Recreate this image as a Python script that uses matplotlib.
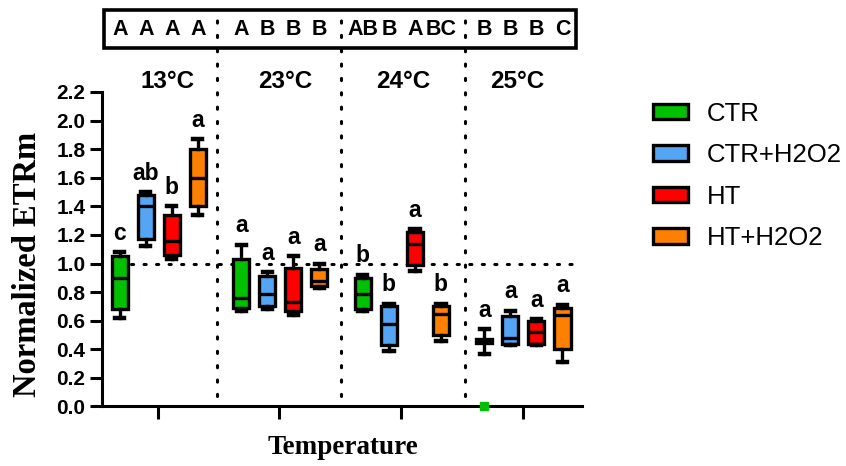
import numpy as np
import matplotlib.pyplot as plt
from matplotlib.patches import Patch, Rectangle

# data: (min, q1, median, q3, max) per temperature
temps = ["13°C", "23°C", "24°C", "25°C"]
treatments = ["CTR", "CTR+H2O2", "HT", "HT+H2O2"]
colors = ["#00C000", "#55A5F5", "#FF0000", "#FF8000"]

ctr = [(0.62, 0.68, 0.90, 1.05, 1.08), (0.67, 0.69, 0.76, 1.03, 1.13),
       (0.67, 0.68, 0.79, 0.90, 0.92), (0.37, 0.445, 0.46, 0.47, 0.54)]
ctr_h2o2 = [(1.12, 1.17, 1.40, 1.48, 1.50), (0.68, 0.70, 0.79, 0.91, 0.94),
            (0.39, 0.43, 0.58, 0.70, 0.72), (0.43, 0.44, 0.48, 0.63, 0.67)]
ht = [(1.03, 1.06, 1.16, 1.34, 1.40), (0.64, 0.67, 0.73, 0.97, 1.05),
      (0.95, 0.99, 1.14, 1.22, 1.24), (0.43, 0.44, 0.52, 0.60, 0.61)]
ht_h2o2 = [(1.34, 1.40, 1.60, 1.80, 1.87), (0.83, 0.84, 0.88, 0.96, 1.00),
           (0.46, 0.50, 0.645, 0.70, 0.72), (0.31, 0.40, 0.64, 0.69, 0.71)]

# lowercase: within temperature, uppercase: within treatment
low_letters = [["c", "ab", "b", "a"], ["a", "a", "a", "a"],
               ["b", "b", "a", "b"], ["a", "a", "a", "a"]]
top_letters = [["A", "A", "A", "A"], ["A", "B", "B", "B"],
               ["AB", "B", "A", "BC"], ["B", "B", "B", "C"]]

# single CTR point sitting on zero at 25°C
zero_point = (3, 0, 0.0)  # (temperature index, treatment index, value)

plt.rcParams['font.family'] = ['Liberation Sans', 'DejaVu Sans']

fig = plt.figure(figsize=(8.46, 4.66), dpi=100)
ax = fig.add_axes([0.1206, 0.1277, 0.5674, 0.6749])

offsets = (np.arange(4) - 1.5) * 0.214 + 0.008
width = 0.132

for k, series in enumerate([ctr, ctr_h2o2, ht, ht_h2o2]):
    stats = [dict(whislo=s[0], q1=s[1], med=s[2], q3=s[3], whishi=s[4], fliers=[])
             for s in series]
    pos = np.arange(4) + offsets[k]
    ax.bxp(stats, positions=pos, widths=width, capwidths=0.075,
           patch_artist=True, showfliers=False,
           boxprops=dict(facecolor=colors[k], edgecolor="black", linewidth=2.4),
           medianprops=dict(color="black", linewidth=2.4),
           whiskerprops=dict(color="black", linewidth=2.4),
           capprops=dict(color="black", linewidth=3.2),
           manage_ticks=False, zorder=3)
    for g, s in enumerate(series):
        ax.annotate(low_letters[g][k], (pos[g], s[4]), xytext=(0, 9),
                    textcoords="offset points", ha="center", va="baseline",
                    fontsize=16.5, fontweight="bold", annotation_clip=False)
        ax.text(pos[g], 2.635, top_letters[g][k], ha="center", va="center",
                fontsize=15.5, fontweight="bold", clip_on=False)

ti, tk, tv = zero_point
ax.plot(ti + offsets[tk], tv, "s", color=colors[tk], markersize=6,
        clip_on=False, zorder=5)

# reference line and temperature separators
ax.plot([-0.22, 3.42], [1.0, 1.0], color="black", lw=2.2, dashes=[0.7, 3.4],
        dash_capstyle="round", zorder=2)
for xs in [0.49, 1.51, 2.53]:
    ax.plot([xs, xs], [0.07, 2.78], color="black", lw=2.2, dashes=[0.7, 4.0],
            dash_capstyle="round", clip_on=False, zorder=2)

for xl, t in zip([0.08, 1.05, 2.02, 2.955], temps):
    ax.text(xl, 2.27, t, ha="center", va="center", fontsize=17.5,
            fontweight="bold", clip_on=False)

ax.add_patch(Rectangle((-0.444, 2.51), 3.884, 0.265, fill=False,
                       edgecolor="black", linewidth=2.6, clip_on=False))

ax.set_xlim(-0.46, 3.49)
ax.set_ylim(0, 2.2)
ax.set_xticks(range(4))
ax.set_xticklabels([])
yt = np.round(np.arange(0, 2.21, 0.2), 1)
ax.set_yticks(yt)
ax.set_yticklabels([f"{v:.1f}" for v in yt], fontsize=15, fontweight="bold")
ax.tick_params(axis="both", width=2.2, length=9, color="black", pad=3)
ax.spines[["top", "right"]].set_visible(False)
ax.spines[["left", "bottom"]].set_linewidth(2.2)

fig.text(0.405, 0.039, "Temperature", ha="center", va="center",
         fontsize=19.5, fontweight="bold", family="Liberation Serif")
fig.text(0.033, 0.433, "Normalized ETRm", ha="center", va="center",
         rotation=90, fontsize=23.5, fontweight="bold", family="Liberation Serif")

handles = [Patch(facecolor=c, edgecolor="black", linewidth=2.4) for c in colors]
fig.legend(handles, treatments, loc="upper left", bbox_to_anchor=(0.772, 0.782),
           frameon=False, fontsize=18.5, handlelength=1.35, handleheight=0.55,
           handletextpad=0.75, labelspacing=0.68, borderpad=0, borderaxespad=0)

fig.savefig("out.png", dpi=100)
